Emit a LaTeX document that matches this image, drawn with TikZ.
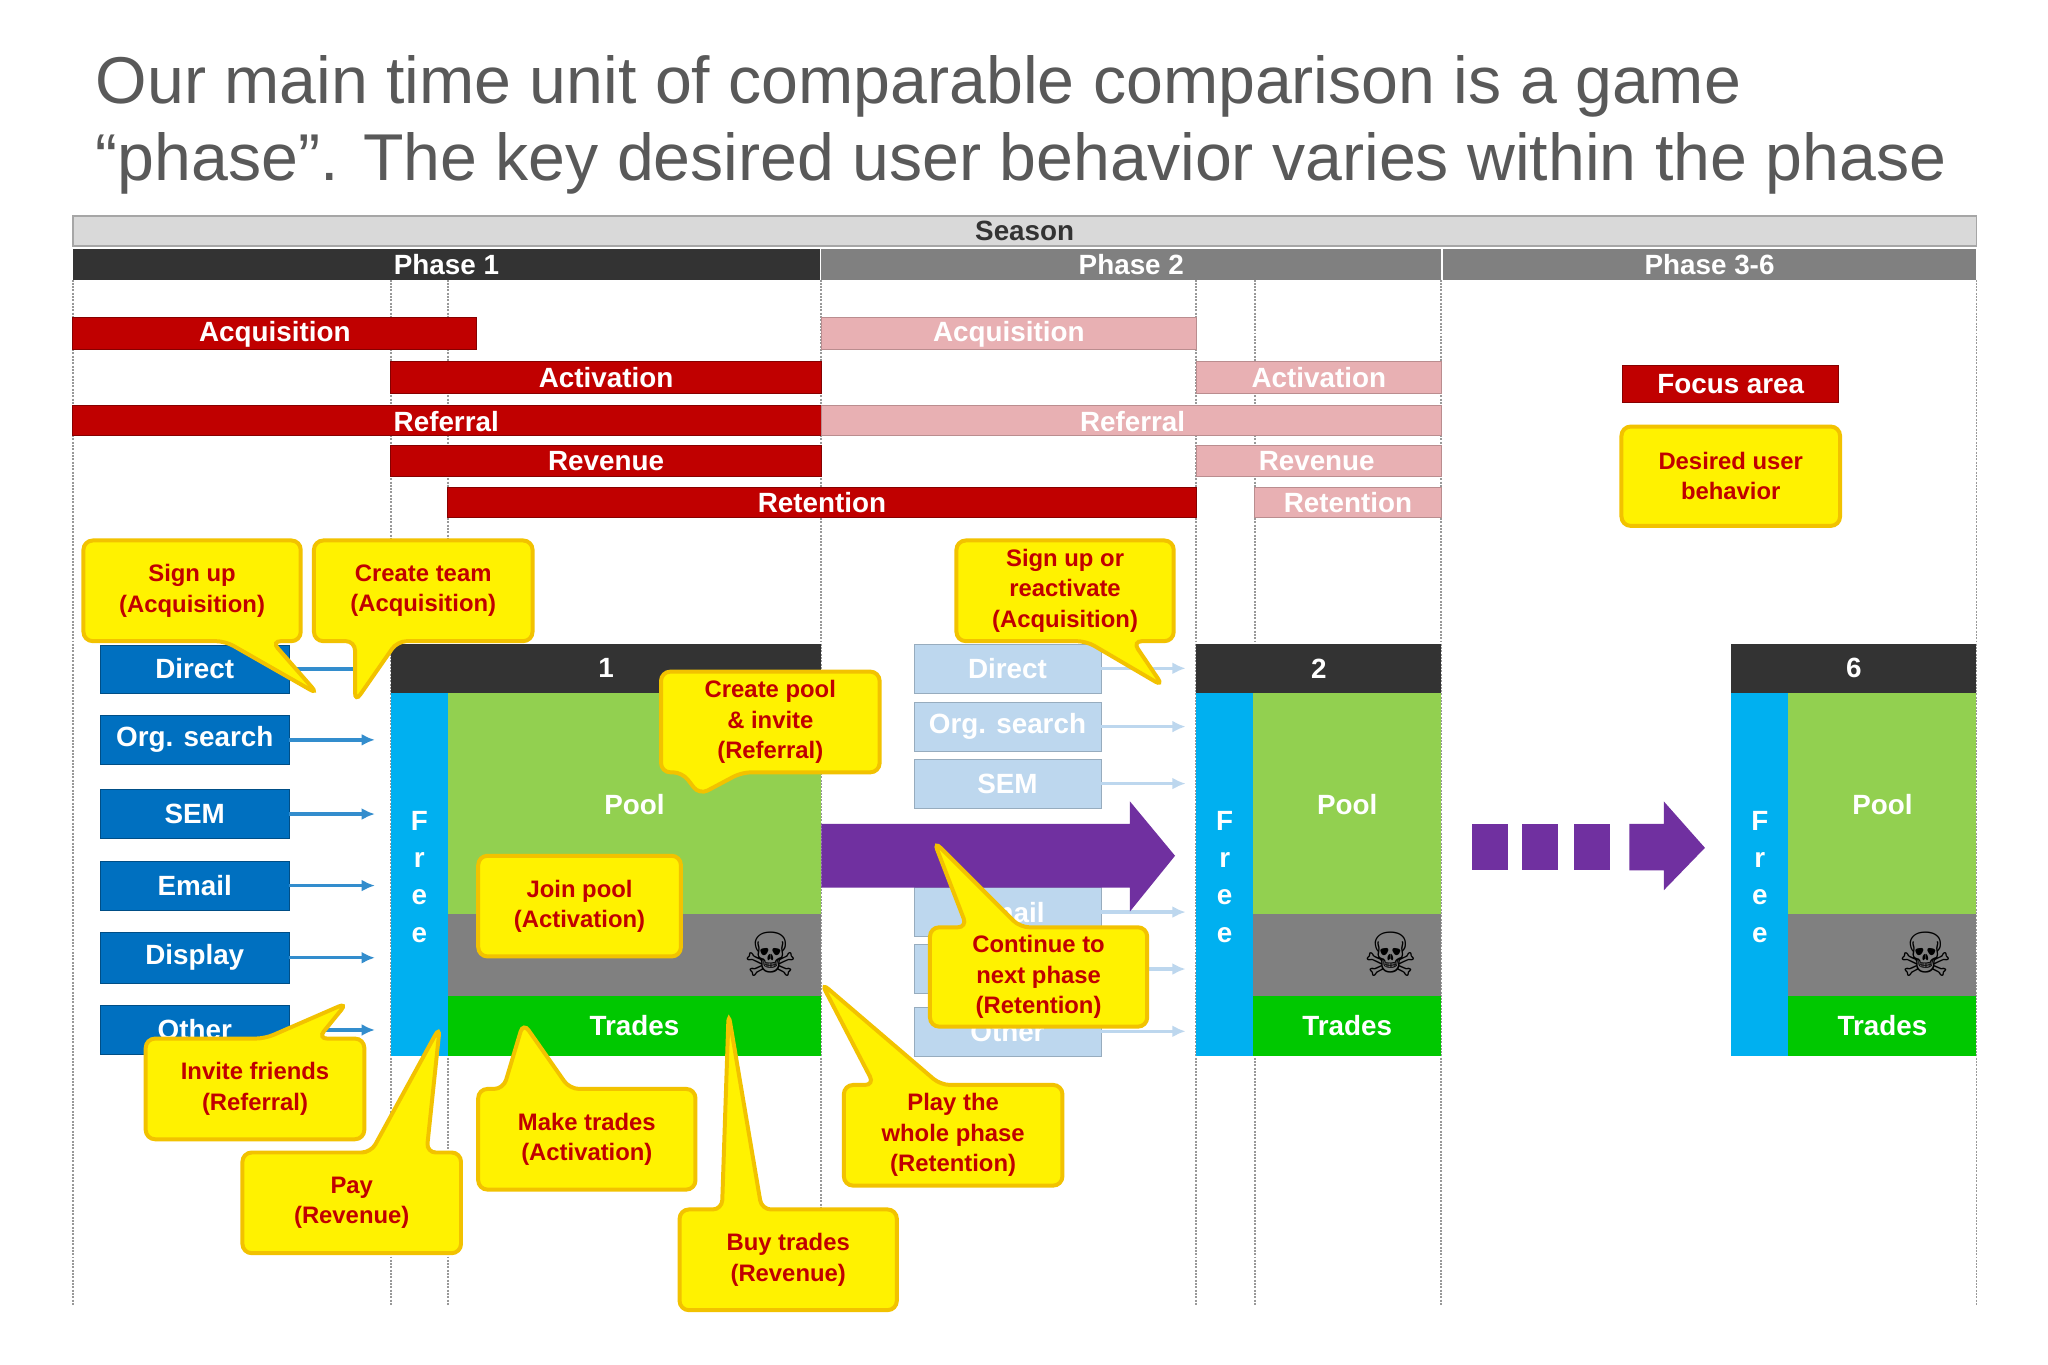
\documentclass[tikz,border=0pt]{standalone}
\usepackage{fontspec}
\setmainfont{Liberation Sans}
\newfontfamily\symfont{DejaVu Sans}
\usetikzlibrary{arrows.meta}
\definecolor{dred}{HTML}{C00000}
\definecolor{pink}{HTML}{E8B0B3}
\definecolor{chblue}{HTML}{0070C0}
\definecolor{pblue}{HTML}{BDD7EE}
\definecolor{cyanf}{HTML}{00B0F0}
\definecolor{poolg}{HTML}{92D050}
\definecolor{tradeg}{HTML}{00C800}
\definecolor{purp}{HTML}{7030A0}
\definecolor{cborder}{HTML}{F2C200}
\definecolor{titleg}{HTML}{595959}
\newcommand\bx[7]{\node[#1, minimum width={(#5-#3)*1pt}, minimum height={(#6-#4)*1pt}, inner sep=0pt, outer sep=0pt] (#2) at ({(#3+#5)/2},{(#4+#6)/2}) {#7};}
\newcommand\calloutB[9]{\draw[callout] (#6,#5) -- #8 -- (#7,#5) -- (#4,#5) -- (#4,#3) -- (#2,#3) -- (#2,#5) -- cycle; \node[ctext] (#1) at ({(#2+#4)/2},{(#3+#5)/2}) {#9};}
\newcommand\calloutT[9]{\draw[callout] (#7,#3) -- #8 -- (#6,#3) -- (#2,#3) -- (#2,#5) -- (#4,#5) -- (#4,#3) -- cycle; \node[ctext] (#1) at ({(#2+#4)/2},{(#3+#5)/2}) {#9};}
\begin{document}
\begin{tikzpicture}[x=1pt,y=-1pt,
 lab/.style={text=white,font=\fontsize{21}{25}\selectfont\bfseries},
 redbar/.style={fill=dred,draw=dred!70!black,line width=0.8pt,lab},
 pinkbar/.style={fill=pink,draw=pink!80!black,line width=0.8pt,lab},
 chan/.style={fill=chblue,draw=chblue!70!black,lab},
 pchan/.style={fill=pblue,draw=pblue!80!black,lab},
 charrow/.style={-{Latex[length=10pt,width=9pt]},line width=2.5pt,draw=chblue!80!white},
 pcharrow/.style={-{Latex[length=10pt,width=9pt]},line width=2.5pt,draw=pblue},
 vline/.style={gray!80,densely dotted,line width=1.5pt},
 callout/.style={fill=yellow,draw=cborder,line width=3pt,rounded corners=7pt},
 ctext/.style={text=dred,font=\fontsize{18}{23}\selectfont\bfseries,align=center},
 skull/.style={font=\symfont\fontsize{46}{46}\selectfont,text=black}]
\useasboundingbox (0,0) rectangle (1546,1030);
\fill[white] (0,0) rectangle (1546,1030);
\node[anchor=north west,align=left,text=titleg,font=\fontsize{50}{58}\selectfont,inner sep=0pt] (title) at (72,42) {Our main time unit of comparable comparison is a game\\``phase''. The key desired user behavior varies within the phase};
% vertical lines
\foreach \x in {55,295,338,620,903,947,1088,1492} \draw[vline] (\x,211) -- (\x,985);
% season & phases
\bx{fill=gray!30,draw=gray!70,line width=1.5pt,font=\fontsize{21}{25}\selectfont\bfseries,text=black!80}{season}{55}{163}{1492}{186}{Season}
\bx{fill=black!80,lab}{ph1}{55}{188}{619}{211}{Phase 1}
\bx{fill=black!50,lab}{ph2}{620}{188}{1088}{211}{Phase 2}
\bx{fill=black!50,lab}{ph3}{1089}{188}{1492}{211}{Phase 3-6}
% red bars
\bx{redbar}{acq}{55}{240}{360}{264}{Acquisition}
\bx{redbar}{act}{295}{273}{620}{297}{Activation}
\bx{redbar}{ref}{55}{306}{620}{329}{}
\node[lab,anchor=west,inner sep=0pt] (reft) at (297,318) {Referral};
\bx{redbar}{rev}{295}{336}{620}{360}{Revenue}
\bx{redbar}{ret}{338}{368}{903}{391}{Retention}
% pink bars
\bx{pinkbar}{pacq}{620}{240}{903}{264}{Acquisition}
\bx{pinkbar}{pact}{903}{273}{1088}{297}{Activation}
\bx{pinkbar}{pref}{620}{306}{1088}{329}{}
\node[lab,inner sep=0pt] (preft) at (855,318) {Referral};
\bx{pinkbar}{prev}{903}{336}{1088}{360}{}
\node[lab,anchor=west,inner sep=0pt] (prevt) at (950,348) {Revenue};
\bx{pinkbar}{pret}{947}{368}{1088}{391}{Retention}
% legend
\bx{redbar}{focus}{1225}{276}{1388}{304}{Focus area}
\bx{fill=yellow,draw=cborder,line width=3pt,rounded corners=7pt,ctext}{desired}{1224}{322}{1389}{397}{Desired user\\behavior}
% phase blocks
\foreach \n/\xa/\xb/\num in {A/295/620/1,B/903/1088/2,C/1307/1492/6}{
 \pgfmathsetmacro\xf{\xa+43}
 \bx{fill=black!80,lab}{hd\n}{\xa}{486}{\xb}{523}{\num}
 \bx{fill=cyanf}{fr\n}{\xa}{523}{\xf}{797}{}
 \node[lab,align=center,font=\fontsize{21}{28}\selectfont\bfseries] (frt\n) at ({\xa+21.5},662) {F\\r\\e\\e};
 \bx{fill=poolg}{pool\n}{\xf}{523}{\xb}{690}{}
 \node[lab] (poolt\n) at ({(\xf+\xb)/2},607) {Pool};
 \bx{fill=black!50}{gr\n}{\xf}{690}{\xb}{752}{}
 \node[skull] (sk\n) at ({\xb-38},720) {☠};
 \bx{fill=tradeg,lab}{tr\n}{\xf}{752}{\xb}{797}{Trades}
}
% channels phase 1
\foreach \n/\t/\ya/\yb in {c1/Direct/487/523,c2/Org. search/540/577,c3/SEM/596/633,c4/Email/650/687,c5/Display/704/742,c6/Other/759/796}{
 \bx{chan}{\n}{76}{\ya}{218}{\yb}{\t}
 \coordinate (\n e) at (283,{(\ya+\yb)/2});
 \draw[charrow] (\n) -- (\n e);
}
% channels phase 2
\foreach \n/\t/\ya/\yb in {d1/Direct/486/523,d2/Org. search/530/567,d3/SEM/573/610,d4/Email/670/707,d5/Display/713/750,d6/Other/760/797}{
 \bx{pchan}{\n}{690}{\ya}{831}{\yb}{\t}
 \coordinate (\n e) at (895,{(\ya+\yb)/2});
 \draw[pcharrow] (\n) -- (\n e);
}
% purple arrows
\fill[purp] (620,622) -- (853,622) -- (853,605) -- (887,646) -- (853,688) -- (853,670) -- (620,670) -- cycle;
\foreach \x in {1111,1149,1188} \fill[purp] (\x,622) rectangle (\x+27,657);
\fill[purp] (1230,622) -- (1256,622) -- (1256,605) -- (1287,640) -- (1256,672) -- (1256,657) -- (1230,657) -- cycle;
% callouts
\calloutB{k1}{63}{408}{227}{484}{170}{205}{(240,524)}{Sign up\\(Acquisition)}
\calloutB{k2}{237}{408}{402}{484}{268}{300}{(268,530)}{Create team\\(Acquisition)}
\calloutB{k3}{722}{408}{886}{484}{820}{855}{(878,518)}{Sign up or\\reactivate\\(Acquisition)}
\calloutB{k4}{499}{507}{664}{583}{515}{560}{(528,600)}{Create pool\\\& invite\\(Referral)}
\draw[callout] (361,646) rectangle (514,722); \node[ctext] (k5) at (437.5,684) {Join pool\\(Activation)};
\calloutT{k6}{702}{700}{866}{775}{730}{770}{(705,635)}{Continue to\\next phase\\(Retention)}
\calloutT{k7}{110}{784}{275}{860}{200}{240}{(262,757)}{Invite friends\\(Referral)}
\calloutT{k8}{183}{870}{348}{946}{280}{322}{(332,775)}{Pay\\(Revenue)}
\calloutT{k9}{361}{822}{525}{898}{380}{430}{(395,772)}{Make trades\\(Activation)}
\calloutT{k10}{637}{819}{802}{895}{660}{710}{(620,742)}{Play the\\whole phase\\(Retention)}
\calloutT{k11}{513}{913}{677}{989}{545}{575}{(550,765)}{Buy trades\\(Revenue)}
\end{tikzpicture}
\end{document}
